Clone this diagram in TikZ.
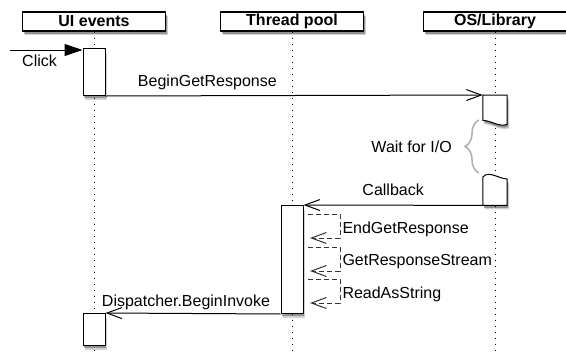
\documentclass[tikz,border=0pt]{standalone}
\usepackage{fontspec}
\setmainfont{Liberation Sans}
\usetikzlibrary{arrows.meta, positioning, calc, shadows, decorations.pathreplacing}

\begin{document}
\begin{tikzpicture}[x=1pt, y=-1pt, font=\fontsize{16}{19}\selectfont,
    softshadow/.style={drop shadow={shadow xshift=2pt, shadow yshift=-4pt, opacity=0.18, fill=black},
      drop shadow={shadow xshift=1pt, shadow yshift=-2.5pt, opacity=0.3, fill=black}},
    lane/.style={draw, line width=1.4pt, fill=white, minimum width=143pt, minimum height=19pt, inner sep=0pt, font=\fontsize{16}{19}\selectfont\bfseries, softshadow},
    actbox/.style={draw, line width=1pt, fill=white, minimum width=22pt, inner sep=0pt, softshadow},
    lifeline/.style={line width=1pt, dash pattern=on 1.6pt off 4.4pt},
    msg/.style={line width=1pt, -{Straight Barb[length=15pt,width=11pt]}},
    msglabel/.style={above, inner sep=5pt, text depth=4pt},
    selfcall/.style={msg, dash pattern=on 5pt off 3pt, draw=black!80},
    brace/.style={decorate, decoration={brace, amplitude=14pt}, draw=black!30, line width=1.6pt}]
					\def\xUI{94};
					\def\xPOOL{292};
					\def\xOS{495};
					\def\yBOT{354};

					\useasboundingbox (0,0) rectangle (566,354);
					\coordinate (bottom) at (0,\yBOT);

					% lanes
					\foreach \name/\x/\txt in {ui/\xUI/UI events, pool/\xPOOL/Thread pool, os/\xOS/{OS/Library}}
					{
						\node[lane] (\name) at (\x,21.5) {\txt};
					}

					\begin{scope}[lifeline]
						\foreach \name in {ui, pool, os}
						{
							\draw (\name.south) -- (\name.south |- bottom);
						}
					\end{scope}

					% activations
					\node[actbox, minimum height=47pt, anchor=north] (uiact1) at (\xUI,48) {};
					\node[actbox, minimum height=108pt, anchor=north] (poolact) at (\xPOOL,205) {};
					\node[actbox, minimum height=32pt, anchor=north] (uiact2) at (\xUI,313) {};

					\node[minimum width=24pt, minimum height=30pt, inner sep=0pt, anchor=north] (osact1) at (\xOS,95) {};
					\node[minimum width=24pt, minimum height=31pt, inner sep=0pt, anchor=north] (osact2) at (\xOS,174) {};

					\begin{scope}[line width=1pt, fill=white]
						\filldraw[softshadow] (osact1.north west) -- (osact1.north east) -- ($(osact1.south east)+(0,-1)$)
							.. controls +(-8,3) and +(8,0) .. ($(osact1.south west)+(0,-5)$) -- cycle;
						\filldraw[softshadow] (osact2.south west) -- ($(osact2.north west)+(0,3)$)
							.. controls +(6,-7) and +(-8,0) .. ($(osact2.north east)+(0,5)$) -- (osact2.south east) -- cycle;
					\end{scope}

					% wait
					\coordinate (braceA) at (479,173);
					\coordinate (braceB) at (479,120);
					\coordinate (bracetip) at (461,147);
					\draw[brace] (braceA) -- (braceB);
					\node[left=9pt of bracetip, inner sep=0pt] (waitio) {Wait for I/O};

					% messages
					\coordinate (click) at (10,50);
					\draw[line width=1pt, -{Triangle[length=18pt,width=12pt]}] (click) -- (click -| uiact1.west);
					\node[anchor=west, inner sep=0pt] (clicklabel) at (22,61) {Click};

					\draw[msg] (uiact1.south east) -- node[msglabel, pos=0.27] {BeginGetResponse} (osact1.north west);
					\draw[msg] (osact2.south west) -- node[msglabel] {Callback} (poolact.north east);
					\draw[msg] (poolact.south west) -- node[msglabel, pos=0.54, inner sep=2pt] {Dispatcher.BeginInvoke} (uiact2.north east);

					\foreach \i/\y/\txt in {1/214/EndGetResponse, 2/247/GetResponseStream, 3/279/ReadAsString}
					{
						\coordinate (self\i) at (308,\y);
						\draw[selfcall] (self\i) -- ++(32,0) -- node[right, inner sep=2pt, yshift=-3pt] {\txt} ++(0,24) -- ++(-30,0);
					}
				\end{tikzpicture}
\end{document}
